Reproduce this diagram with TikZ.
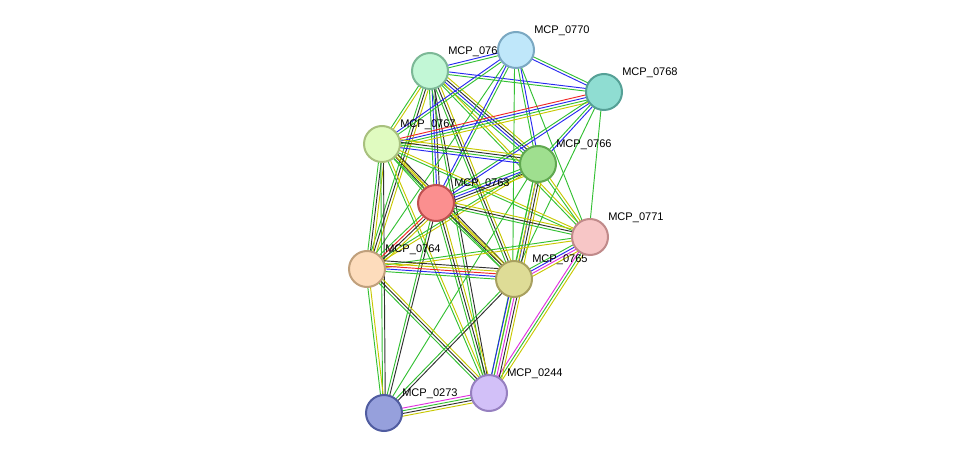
\documentclass[tikz,border=0pt]{standalone}
\usepackage{fontspec}
\setmainfont{Liberation Sans}
\usetikzlibrary{calc}
\definecolor{eg}{HTML}{33C033}
\definecolor{ey}{HTML}{C8C800}
\definecolor{eb}{HTML}{2828F0}
\definecolor{ek}{HTML}{303030}
\definecolor{er}{HTML}{F02828}
\definecolor{em}{HTML}{E030E0}
\definecolor{f70}{HTML}{BFE7FA}\definecolor{d70}{HTML}{7AA8C2}
\definecolor{f69}{HTML}{C2F7D6}\definecolor{d69}{HTML}{7CB896}
\definecolor{f68}{HTML}{8FDDD2}\definecolor{d68}{HTML}{55A096}
\definecolor{f67}{HTML}{E0FBC0}\definecolor{d67}{HTML}{A8C07E}
\definecolor{f66}{HTML}{9FDF8F}\definecolor{d66}{HTML}{60A850}
\definecolor{f63}{HTML}{FB8F8F}\definecolor{d63}{HTML}{C05050}
\definecolor{f71}{HTML}{F7C6C6}\definecolor{d71}{HTML}{C08A8A}
\definecolor{f64}{HTML}{FDDCBC}\definecolor{d64}{HTML}{C0A07C}
\definecolor{f65}{HTML}{DEDC96}\definecolor{d65}{HTML}{A8A060}
\definecolor{f44}{HTML}{D2C0F8}\definecolor{d44}{HTML}{9680C0}
\definecolor{f73}{HTML}{96A0DC}\definecolor{d73}{HTML}{505CA0}
\tikzset{
  prot/.style={circle,minimum size=27pt,inner sep=0pt,line width=1.5pt,fill=f#1,draw=d#1},
  lbl/.style={anchor=west,font=\fontsize{8.3pt}{9pt}\selectfont,inner sep=0pt},
  edge/.style={line width=0.7pt}
}
\begin{document}
\begin{tikzpicture}[x=0.75pt,y=-0.75pt]
\useasboundingbox (0,0) rectangle (975,459);
% positions
\coordinate (p70) at (516,50);
\coordinate (p69) at (430,71);
\coordinate (p68) at (604,92);
\coordinate (p67) at (382,144);
\coordinate (p66) at (538,164);
\coordinate (p63) at (436,203);
\coordinate (p71) at (590,237);
\coordinate (p64) at (367,269);
\coordinate (p65) at (514,279);
\coordinate (p44) at (489,393);
\coordinate (p73) at (384,413);
% edges
\foreach \a/\b/\cols in {
  69/70/{eg,eb}, 69/68/{eg,eb}, 69/67/{eg,ey}, 69/66/{eg,eb,ek,ey},
  69/63/{eg,eb,ek}, 69/71/{eg,ey}, 69/64/{eg,ek,ey}, 69/65/{eg,ek,ey},
  69/44/{eg,ek}, 70/68/{eb,eg}, 70/67/{eb,eg}, 70/66/{eg,eb},
  70/63/{eb,eg}, 70/71/{eg}, 70/65/{eg}, 70/64/{eg},
  68/67/{er,eb,eg,ey}, 68/66/{eg,eb}, 68/63/{eg,eb}, 68/71/{eg}, 68/65/{eg},
  67/66/{eb,eg,ek,ey}, 67/63/{eg,ek,ey}, 67/71/{eg,ey}, 67/64/{eg,ek,ey},
  67/65/{eg,ey,ek}, 67/44/{eg,ey}, 67/73/{eg,ek},
  66/63/{eg,eb,ek,ey}, 66/71/{eg,ey}, 66/65/{eg,eb,ek,ey}, 66/64/{eg,ey},
  66/44/{eg,ey}, 66/73/{eg},
  63/71/{eg,ek,ey}, 63/64/{eg,er,ek,ey}, 63/65/{eg,ek,ey}, 63/44/{eg,ek,ey},
  63/73/{eg,ek}, 71/64/{eg,ey}, 71/65/{eg,eb,em,ey}, 71/44/{em,eg,ey},
  64/65/{eg,eb,er,ey,ek}, 64/44/{eg,ek,ey}, 64/73/{eg,ey},
  65/44/{eb,eg,em,ek,ey}, 65/73/{eg,ek}, 44/73/{em,eg,ek,ey}}{
  \foreach \c [count=\i] in \cols {
    \pgfmathsetmacro\off{(\i-1)*2-1}
    \draw[edge,\c] ($(p\a)!\off pt!90:(p\b)$) -- ($(p\b)!\off pt!-90:(p\a)$);
  }
}
% labels
\foreach \p/\t in {70/MCP\_0770, 69/MCP\_0769, 68/MCP\_0768, 67/MCP\_0767,
  66/MCP\_0766, 63/MCP\_0763, 71/MCP\_0771, 64/MCP\_0764, 65/MCP\_0765,
  44/MCP\_0244, 73/MCP\_0273}
  \node[lbl] (l\p) at ($(p\p)+(18,-19)$) {\t};
% proteins
\foreach \p in {70,69,68,67,66,63,71,64,65,44,73}
  \node[prot=\p] (n\p) at (p\p) {};
\end{tikzpicture}
\end{document}
